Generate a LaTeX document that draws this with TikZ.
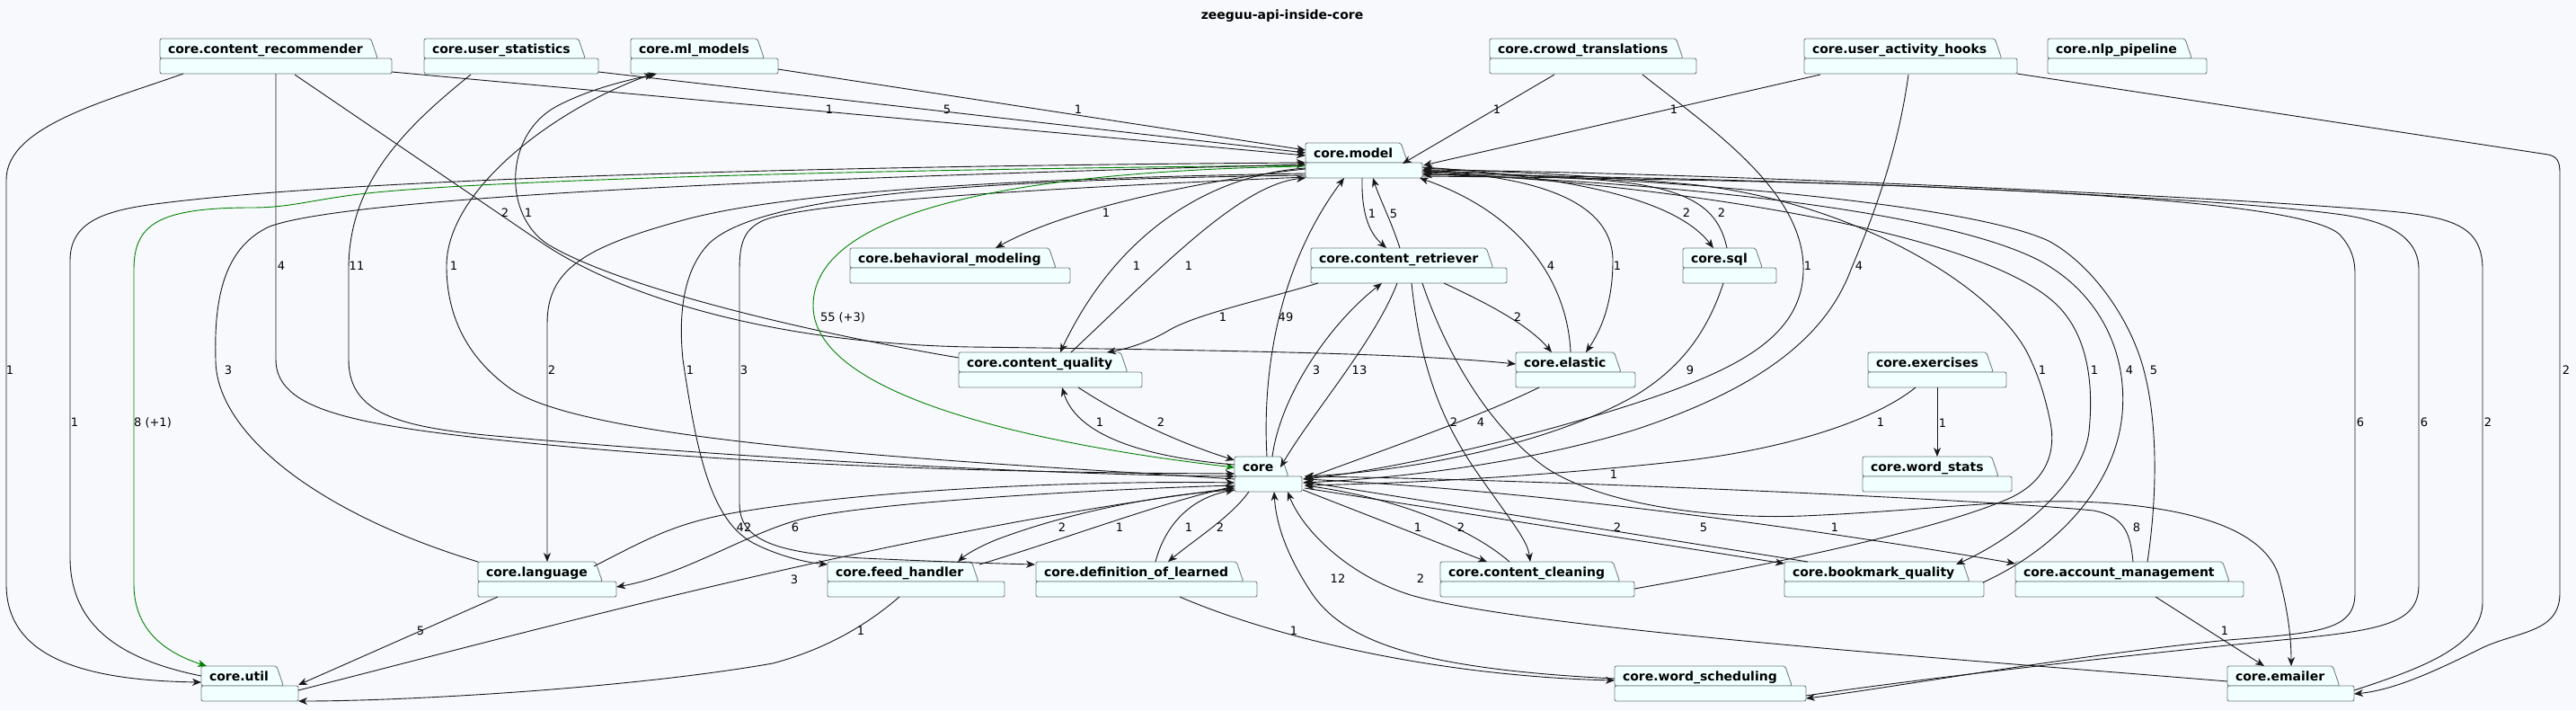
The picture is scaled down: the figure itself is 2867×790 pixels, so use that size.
\documentclass[tikz,border=0pt]{standalone}
\usepackage{fontspec}
\setmainfont{DejaVu Sans}
\usetikzlibrary{arrows.meta}
\definecolor{bgc}{RGB}{248,249,253}
\definecolor{pkgfill}{RGB}{241,255,255}
\definecolor{pkgline}{RGB}{115,128,128}
\definecolor{edgec}{RGB}{24,24,24}
\definecolor{grn}{RGB}{0,128,0}
\pgfdeclarelayer{bgl}
\pgfsetlayers{bgl,main}
\tikzset{
  pkgtab/.style={anchor=north west, inner xsep=9pt, inner ysep=0pt, outer sep=0pt,
    minimum height=22pt, text height=12pt, text depth=2pt,
    font=\fontsize{14pt}{16pt}\selectfont\bfseries},
  pkgshape/.style={fill=pkgfill, draw=pkgline, line width=0.9pt, rounded corners=2pt},
  lbl/.style={font=\fontsize{13pt}{15pt}\selectfont, inner sep=0pt, text=black},
  ttl/.style={font=\fontsize{14pt}{16pt}\selectfont\bfseries, inner sep=0pt},
  dep/.style={draw=edgec, line width=0.9pt, -{Stealth[length=10pt,width=8pt,inset=3pt]}},
  gdep/.style={dep, draw=grn}
}
\newcommand{\upkg}[5]{%
  \node[pkgtab] (#1) at (#2,#3) {#5};
  \begin{pgfonlayer}{bgl}
    \filldraw[pkgshape] (#1.south west) -- (#1.north west) -- (#1.north east) -- ([xshift=7.5pt]#1.south east) -- cycle;
    \filldraw[pkgshape] (#1.south west) rectangle ++(#4,17);
  \end{pgfonlayer}
}
\begin{document}
\begin{tikzpicture}[x=1pt,y=-1pt]
\useasboundingbox (0,0) rectangle (2867,790);
\begin{pgfonlayer}{bgl}
\fill[bgc] (0,0) rectangle (2867,790);
\end{pgfonlayer}
\node[ttl] (title) at (1427,18) {zeeguu-api-inside-core};
% packages
\upkg{cr}{178}{43}{258}{core.content\_recommender}
\upkg{us}{472}{43}{194}{core.user\_statistics}
\upkg{ml}{702}{43}{164}{core.ml\_models}
\upkg{ct}{1658}{43}{230}{core.crowd\_translations}
\upkg{uah}{2008}{43}{237}{core.user\_activity\_hooks}
\upkg{nlp}{2279}{43}{177}{core.nlp\_pipeline}
\upkg{model}{1453}{159}{130}{core.model}
\upkg{bm}{946}{276}{245}{core.behavioral\_modeling}
\upkg{cret}{1459}{276}{218}{core.content\_retriever}
\upkg{sql}{1873}{276}{104}{core.sql}
\upkg{cq}{1067}{392}{204}{core.content\_quality}
\upkg{el}{1687}{392}{133}{core.elastic}
\upkg{ex}{2079}{392}{154}{core.exercises}
\upkg{core}{1374}{508}{75}{core}
\upkg{ws}{2073}{508}{166}{core.word\_stats}
\upkg{lang}{532}{625}{154}{core.language}
\upkg{fh}{921}{625}{197}{core.feed\_handler}
\upkg{dol}{1153}{625}{246}{core.definition\_of\_learned}
\upkg{cc}{1603}{625}{216}{core.content\_cleaning}
\upkg{bq}{1986}{625}{222}{core.bookmark\_quality}
\upkg{am}{2243}{625}{254}{core.account\_management}
\upkg{util}{224}{741}{108}{core.util}
\upkg{wsch}{1797}{741}{213}{core.word\_scheduling}
\upkg{em}{2479}{741}{141}{core.emailer}
% edges
\draw[dep] ([shift={(26,39)}]cr.north west) .. controls (120,112) and (7,140) .. (7,200) -- (7,650) .. controls (7,730) and (90,757) .. ([shift={(0,18)}]util.north west);
\draw[dep] ([shift={(258,37)}]cr.north west) -- ([shift={(0,14)}]model.north west);
\draw[dep] ([shift={(129,39)}]cr.north west) -- (307,400) .. controls (307,455) and (390,472) .. (560,490) .. controls (850,520) and (1150,526) .. ([shift={(0,19)}]core.north west);
\draw[dep] ([shift={(150,40)}]cr.north west) -- (600,268) .. controls (690,330) and (860,382) .. (1080,386) .. controls (1400,390) and (1580,394) .. ([shift={(0,13)}]el.north west);
\draw[dep] ([shift={(194,37)}]us.north west) -- ([shift={(0,11)}]model.north west);
\draw[dep] ([shift={(52,40)}]us.north west) .. controls (440,150) and (388,210) .. (388,300) -- (388,400) .. controls (388,458) and (440,474) .. (540,484) .. controls (800,508) and (1150,528) .. ([shift={(0,22)}]core.north west);
\draw[dep] ([shift={(164,34)}]ml.north west) -- ([shift={(0,8)}]model.north west);
\draw[dep] ([shift={(0,6)}]cq.north west) .. controls (900,370) and (690,320) .. (610,272) .. controls (560,240) and (560,150) .. (620,118) .. controls (660,97) and (705,88) .. ([shift={(29,39)}]ml.north west);
\draw[dep] ([shift={(0,25)}]core.north west) .. controls (1100,515) and (660,495) .. (569,433) .. controls (515,395) and (497,345) .. (497,296) .. controls (497,210) and (620,120) .. ([shift={(25,39)}]ml.north west);
\draw[dep] ([shift={(72,40)}]ct.north west) -- ([shift={(108,23)}]model.north west);
\draw[dep] ([shift={(170,40)}]ct.north west) .. controls (1900,140) and (2005,210) .. (2007,296) .. controls (2009,370) and (1940,405) .. (1860,435) .. controls (1750,475) and (1560,522) .. ([shift={(76,25)}]core.north west);
\draw[dep] ([shift={(18,40)}]uah.north west) -- ([shift={(131,25)}]model.north west);
\draw[dep] ([shift={(116,40)}]uah.north west) .. controls (2112,170) and (2085,240) .. (2060,300) .. controls (2030,380) and (1950,435) .. (1820,478) .. controls (1700,515) and (1560,532) .. ([shift={(76,29)}]core.north west);
\draw[dep] ([shift={(237,39)}]uah.north west) -- (2836,172) .. controls (2846,174) and (2849,180) .. (2849,192) -- (2849,660) .. controls (2849,705) and (2800,702) .. (2760,722) .. controls (2700,752) and (2660,768) .. ([shift={(141,31)}]em.north west);
\draw[dep] ([shift={(0,11)}]util.north west) .. controls (140,735) and (78,700) .. (78,620) -- (78,290) .. controls (78,250) and (110,236) .. (165,228) .. controls (400,196) and (1000,184) .. ([shift={(0,22)}]model.north west);
\draw[gdep] ([shift={(0,25)}]model.north west) .. controls (1000,188) and (520,200) .. (392,217) .. controls (340,224) and (320,231) .. (280,231) .. controls (175,231) and (149,250) .. (149,300) -- (149,650) .. controls (149,705) and (190,728) .. ([shift={(6,0)}]util.north west);
\draw[dep] (lang.north west) .. controls (350,570) and (240,480) .. (240,400) .. controls (238,330) and (250,275) .. (300,252) .. controls (400,215) and (1000,195) .. ([shift={(0,24)}]model.north west);
\draw[dep] ([shift={(0,34)}]model.north west) .. controls (1150,198) and (880,212) .. (760,245) .. controls (650,275) and (609,300) .. (609,360) -- ([shift={(77,0)}]lang.north west);
\draw[dep] ([shift={(0,36)}]model.north west) .. controls (1100,200) and (850,215) .. (790,270) .. controls (760,300) and (755,350) .. (760,400) .. controls (775,500) and (790,580) .. (840,605) .. controls (870,620) and (900,626) .. ([shift={(0,3)}]fh.north west);
\draw[dep] ([shift={(0,38)}]model.north west) .. controls (1150,210) and (900,225) .. (850,245) .. controls (828,255) and (823,270) .. (823,300) -- (823,560) .. controls (823,600) and (860,615) .. (960,621) .. controls (1050,625) and (1110,627) .. ([shift={(-1,3)}]dol.north west);
\draw[dep] ([shift={(0,29)}]model.north west) .. controls (1380,195) and (1200,225) .. ([shift={(162,0)}]bm.north west);
\draw[dep] ([shift={(0,28)}]model.north west) .. controls (1340,195) and (1240,265) .. ([shift={(113,0)}]cq.north west);
\draw[dep] ([shift={(125,0)}]cq.north west) .. controls (1290,300) and (1380,205) .. ([shift={(0,39)}]model.north west);
\draw[gdep] ([shift={(0,26)}]model.north west) .. controls (1150,190) and (905,230) .. (905,340) .. controls (905,450) and (1200,500) .. ([shift={(0,12)}]core.north west);
\draw[dep] ([shift={(36,0)}]core.north west) .. controls (1405,420) and (1420,300) .. ([shift={(43,39)}]model.north west);
\draw[dep] ([shift={(63,39)}]model.north west) .. controls (1515,240) and (1525,260) .. ([shift={(84,0)}]cret.north west);
\draw[dep] ([shift={(99,0)}]cret.north west) .. controls (1548,245) and (1535,220) .. ([shift={(75,39)}]model.north west);
\draw[dep] ([shift={(130,27)}]model.north west) .. controls (1720,195) and (1860,215) .. ([shift={(34,0)}]sql.north west);
\draw[dep] ([shift={(49,0)}]sql.north west) .. controls (1912,230) and (1880,205) .. (1760,199) .. controls (1700,196) and (1620,190) .. ([shift={(131,31)}]model.north west);
\draw[dep] ([shift={(130,31)}]model.north west) .. controls (1700,195) and (1795,220) .. (1795,290) .. controls (1795,340) and (1780,370) .. ([shift={(78,0)}]el.north west);
\draw[dep] ([shift={(61,0)}]el.north west) .. controls (1745,320) and (1700,240) .. ([shift={(127,39)}]model.north west);
\draw[dep] ([shift={(216,30)}]cc.north west) .. controls (1950,632) and (2150,592) .. (2235,555) .. controls (2280,535) and (2288,500) .. (2282,470) .. controls (2276,440) and (2268,415) .. (2255,390) .. controls (2210,310) and (2050,222) .. (1880,205) .. controls (1750,193) and (1640,190) .. ([shift={(131,28)}]model.north west);
\draw[dep] ([shift={(130,33)}]model.north west) .. controls (1800,200) and (2200,250) .. (2290,340) .. controls (2325,375) and (2330,430) .. (2325,480) .. controls (2318,540) and (2240,600) .. ([shift={(191,3)}]bq.north west);
\draw[dep] ([shift={(221,23)}]bq.north west) .. controls (2290,610) and (2355,540) .. (2362,460) .. controls (2368,390) and (2335,325) .. (2270,290) .. controls (2150,228) and (1800,200) .. ([shift={(131,35)}]model.north west);
\draw[dep] ([shift={(147,0)}]am.north west) .. controls (2402,545) and (2400,470) .. (2388,420) .. controls (2375,360) and (2330,295) .. (2280,268) .. controls (2180,222) and (1800,196) .. ([shift={(131,32)}]model.north west);
\draw[dep] ([shift={(130,37)}]model.north west) .. controls (2000,200) and (2560,212) .. (2605,262) .. controls (2617,276) and (2621,288) .. (2621,305) -- (2621,660) .. controls (2621,702) and (2580,704) .. (2480,712) .. controls (2300,730) and (2100,766) .. ([shift={(213,36)}]wsch.north west);
\draw[dep] ([shift={(213,33)}]wsch.north west) .. controls (2100,760) and (2350,730) .. (2560,710) .. controls (2660,700) and (2692,690) .. (2692,650) -- (2692,300) .. controls (2692,262) and (2655,245) .. (2600,238) .. controls (2450,218) and (2000,198) .. ([shift={(130,35)}]model.north west);
\draw[dep] ([shift={(141,27)}]em.north west) .. controls (2690,745) and (2763,720) .. (2763,670) -- (2763,300) .. controls (2763,255) and (2735,243) .. (2670,236) .. controls (2500,220) and (1900,192) .. ([shift={(130,30)}]model.north west);
\draw[dep] ([shift={(8,39)}]cret.north west) .. controls (1400,335) and (1330,350) .. (1300,368) .. controls (1280,380) and (1255,388) .. ([shift={(165,0)}]cq.north west);
\draw[dep] ([shift={(96,39)}]cret.north west) .. controls (1530,380) and (1460,460) .. ([shift={(51,12)}]core.north west);
\draw[dep] ([shift={(42,0)}]core.north west) .. controls (1425,440) and (1480,360) .. ([shift={(79,39)}]cret.north west);
\draw[dep] ([shift={(148,39)}]cret.north west) .. controls (1650,335) and (1700,360) .. ([shift={(40,0)}]el.north west);
\draw[dep] ([shift={(112,39)}]cret.north west) .. controls (1580,400) and (1600,460) .. (1640,520) .. controls (1680,578) and (1700,600) .. ([shift={(100,0)}]cc.north west);
\draw[dep] ([shift={(124,39)}]cret.north west) .. controls (1605,380) and (1650,470) .. (1720,520) .. controls (1780,560) and (1900,578) .. (2006,574) .. controls (2150,568) and (2250,552) .. (2350,560) .. controls (2450,568) and (2520,592) .. (2536,640) .. controls (2548,685) and (2550,715) .. ([shift={(71,0)}]em.north west);
\draw[dep] ([shift={(26,39)}]el.north west) .. controls (1650,462) and (1550,497) .. ([shift={(78,25)}]core.north west);
\draw[dep] ([shift={(45,39)}]sql.north west) .. controls (1900,370) and (1870,410) .. (1820,440) .. controls (1720,497) and (1560,525) .. ([shift={(78,22)}]core.north west);
\draw[dep] ([shift={(53,39)}]ex.north west) .. controls (2090,465) and (2000,497) .. (1880,512) .. controls (1700,532) and (1550,538) .. ([shift={(78,32)}]core.north west);
\draw[dep] ([shift={(77,39)}]ex.north west) -- ([shift={(83,0)}]ws.north west);
\draw[dep] ([shift={(133,39)}]cq.north west) .. controls (1260,470) and (1320,495) .. ([shift={(0,4)}]core.north west);
\draw[dep] ([shift={(0,9)}]core.north west) .. controls (1290,510) and (1200,490) .. ([shift={(115,39)}]cq.north west);
\draw[dep] ([shift={(129,5)}]lang.north west) .. controls (720,600) and (750,582) .. (820,570) .. controls (1000,540) and (1250,535) .. ([shift={(0,29)}]core.north west);
\draw[dep] ([shift={(0,32)}]core.north west) .. controls (1200,545) and (960,560) .. (890,578) .. controls (830,594) and (760,640) .. ([shift={(154,28)}]lang.north west);
\draw[dep] ([shift={(22,39)}]lang.north west) -- ([shift={(108,21)}]util.north west);
\draw[dep] ([shift={(108,27)}]util.north west) .. controls (600,700) and (1000,590) .. ([shift={(0,35)}]core.north west);
\draw[dep] ([shift={(80,39)}]fh.north west) .. controls (965,695) and (920,722) .. (860,738) .. controls (700,766) and (450,780) .. ([shift={(108,39)}]util.north west);
\draw[dep] ([shift={(0,37)}]core.north west) .. controls (1290,550) and (1190,570) .. (1110,600) .. controls (1090,608) and (1075,617) .. ([shift={(145,0)}]fh.north west);
\draw[dep] ([shift={(169,3)}]fh.north west) .. controls (1190,598) and (1290,560) .. ([shift={(0,33)}]core.north west);
\draw[dep] ([shift={(133,0)}]dol.north west) .. controls (1295,590) and (1320,555) .. ([shift={(0,37)}]core.north west);
\draw[dep] ([shift={(16,39)}]core.north west) .. controls (1370,575) and (1330,600) .. ([shift={(147,0)}]dol.north west);
\draw[dep] ([shift={(160,39)}]dol.north west) .. controls (1420,710) and (1600,752) .. ([shift={(0,16)}]wsch.north west);
\draw[dep] ([shift={(0,14)}]wsch.north west) .. controls (1600,745) and (1500,720) .. (1460,660) .. controls (1430,615) and (1420,580) .. ([shift={(44,39)}]core.north west);
\draw[dep] ([shift={(0,17)}]em.north west) .. controls (2200,735) and (1700,700) .. (1570,662) .. controls (1500,640) and (1450,590) .. ([shift={(59,39)}]core.north west);
\draw[dep] ([shift={(76,37)}]core.north west) -- ([shift={(52,0)}]cc.north west);
\draw[dep] ([shift={(77,0)}]cc.north west) .. controls (1640,590) and (1560,555) .. ([shift={(78,32)}]core.north west);
\draw[dep] ([shift={(78,35)}]core.north west) -- ([shift={(0,2)}]bq.north west);
\draw[dep] ([shift={(26,0)}]bq.north west) -- ([shift={(78,28)}]core.north west);
\draw[dep] ([shift={(78,25)}]core.north west) .. controls (1700,545) and (2000,585) .. ([shift={(0,2)}]am.north west);
\draw[dep] ([shift={(131,0)}]am.north west) .. controls (2371,595) and (2366,575) .. (2330,568) .. controls (2200,555) and (1700,533) .. ([shift={(78,22)}]core.north west);
\draw[dep] ([shift={(156,39)}]am.north west) -- ([shift={(41,0)}]em.north west);
% labels
\node[lbl] (l1) at (11,412) {1};
\node[lbl] (l2) at (923,122) {1};
\node[lbl] (l3) at (313,296) {4};
\node[lbl] (l4) at (562,237) {2};
\node[lbl] (l5) at (1054,122) {5};
\node[lbl] (l6) at (397,296) {11};
\node[lbl] (l7) at (1200,122) {1};
\node[lbl] (l8) at (588,237) {1};
\node[lbl] (l9) at (505,296) {1};
\node[lbl] (l10) at (1666,122) {1};
\node[lbl] (l11) at (2012,296) {1};
\node[lbl] (l12) at (1863,122) {1};
\node[lbl] (l13) at (2069,296) {4};
\node[lbl] (l14) at (2856,412) {2};
\node[lbl] (l15) at (83,470) {1};
\node[lbl] (l16) at (170,470) {8 (+1)};
\node[lbl] (l17) at (254,412) {3};
\node[lbl] (l18) at (614,412) {2};
\node[lbl] (l19) at (768,412) {1};
\node[lbl] (l20) at (828,412) {3};
\node[lbl] (l21) at (1231,237) {1};
\node[lbl] (l22) at (1265,296) {1};
\node[lbl] (l23) at (1323,296) {1};
\node[lbl] (l24) at (938,353) {55 (+3)};
\node[lbl] (l25) at (1431,353) {49};
\node[lbl] (l26) at (1527,238) {1};
\node[lbl] (l27) at (1551,238) {5};
\node[lbl] (l28) at (1877,237) {2};
\node[lbl] (l29) at (1916,237) {2};
\node[lbl] (l30) at (1800,296) {1};
\node[lbl] (l31) at (1726,296) {4};
\node[lbl] (l32) at (2273,412) {1};
\node[lbl] (l33) at (2331,412) {1};
\node[lbl] (l34) at (2370,412) {4};
\node[lbl] (l35) at (2397,412) {5};
\node[lbl] (l36) at (2627,470) {6};
\node[lbl] (l37) at (2698,470) {6};
\node[lbl] (l38) at (2769,470) {2};
\node[lbl] (l39) at (1361,353) {1};
\node[lbl] (l40) at (1513,412) {13};
\node[lbl] (l41) at (1465,412) {3};
\node[lbl] (l42) at (1689,353) {2};
\node[lbl] (l43) at (1618,470) {2};
\node[lbl] (l44) at (1796,528) {1};
\node[lbl] (l45) at (1648,470) {4};
\node[lbl] (l46) at (1881,412) {9};
\node[lbl] (l47) at (2093,470) {1};
\node[lbl] (l48) at (2162,471) {1};
\node[lbl] (l49) at (1292,470) {2};
\node[lbl] (l50) at (1224,470) {1};
\node[lbl] (l51) at (828,587) {42};
\node[lbl] (l52) at (885,587) {6};
\node[lbl] (l53) at (468,702) {5};
\node[lbl] (l54) at (884,645) {3};
\node[lbl] (l55) at (958,702) {1};
\node[lbl] (l56) at (1182,587) {2};
\node[lbl] (l57) at (1246,587) {1};
\node[lbl] (l58) at (1323,587) {1};
\node[lbl] (l59) at (1358,587) {2};
\node[lbl] (l60) at (1440,702) {1};
\node[lbl] (l61) at (1489,644) {12};
\node[lbl] (l62) at (1581,644) {2};
\node[lbl] (l63) at (1578,587) {1};
\node[lbl] (l64) at (1626,587) {2};
\node[lbl] (l65) at (1800,587) {2};
\node[lbl] (l66) at (1896,587) {5};
\node[lbl] (l67) at (2042,587) {1};
\node[lbl] (l68) at (2378,587) {8};
\node[lbl] (l69) at (2476,702) {1};
\end{tikzpicture}
\end{document}
